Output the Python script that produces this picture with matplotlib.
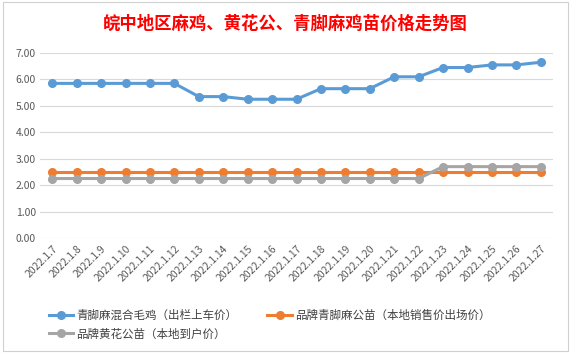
import matplotlib
matplotlib.use('Agg')
import matplotlib.pyplot as plt
from matplotlib.patches import Rectangle

plt.rcParams['font.family'] = ['Noto Sans CJK SC', 'DejaVu Sans']

dates = ['2022.1.7', '2022.1.8', '2022.1.9', '2022.1.10', '2022.1.11', '2022.1.12',
         '2022.1.13', '2022.1.14', '2022.1.15', '2022.1.16', '2022.1.17', '2022.1.18',
         '2022.1.19', '2022.1.20', '2022.1.21', '2022.1.22', '2022.1.23', '2022.1.24',
         '2022.1.25', '2022.1.26', '2022.1.27']
mixed_price = [5.85, 5.85, 5.85, 5.85, 5.85, 5.85, 5.35, 5.35, 5.25, 5.25, 5.25,
               5.65, 5.65, 5.65, 6.1, 6.1, 6.45, 6.45, 6.55, 6.55, 6.65]
qingjiao_price = [2.5] * 21
huanghua_price = [2.25] * 16 + [2.7] * 5
series_names = ['青脚麻混合毛鸡（出栏上车价）', '品牌青脚麻公苗（本地销售价出场价）', '品牌黄花公苗（本地到户价）']
title = '皖中地区麻鸡、黄花公、青脚麻鸡苗价格走势图'

colors = ['#5B9BD5', '#ED7D31', '#A5A5A5']

fig = plt.figure(figsize=(5.71, 3.55), dpi=100)
ax = fig.add_axes([40 / 571, 1 - 238 / 355, 513 / 571, 185 / 355])

# chart frame
fig.patches.append(Rectangle((3 / 571, 4 / 355), 565 / 571, 349 / 355, transform=fig.transFigure,
                             fill=False, edgecolor='#d0d0d0', linewidth=0.8))

x = list(range(len(dates)))
handles = []
for vals, c, name in zip([mixed_price, qingjiao_price, huanghua_price], colors, series_names):
    h, = ax.plot(x, vals, color=c, linewidth=2.2, marker='o', markersize=5.5, label=name,
                 solid_joinstyle='round')
    handles.append(h)

ax.set_xlim(-0.5, len(dates) - 0.5)
ax.set_ylim(0, 7)
ax.set_yticks([0, 1, 2, 3, 4, 5, 6, 7])
ax.set_yticklabels([f'{v:.2f}' for v in range(8)])
ax.set_xticks(x)
ax.set_xticklabels(dates, rotation=45, ha='right', rotation_mode='anchor')
ax.tick_params(length=0, labelsize=7.5, labelcolor='#595959', pad=3)
ax.tick_params(axis='x', pad=4)
ax.grid(axis='y', color='#d9d9d9', linewidth=0.8)
ax.set_axisbelow(True)
for s in ax.spines.values():
    s.set_visible(False)

fig.text(0.5, 1 - 24 / 355, title, color='#FF0000', fontsize=12.5, fontweight='bold',
         ha='center', va='center')

fig.legend([handles[0], handles[2], handles[1]],
           [series_names[0], series_names[2], series_names[1]],
           ncol=2, loc='upper left', bbox_to_anchor=(43 / 571, 1 - 303 / 355),
           frameon=False, fontsize=8.3, handlelength=2.1, handletextpad=0.3,
           columnspacing=2.6, labelspacing=0.5, labelcolor='#404040', borderpad=0)

fig.savefig('out.png', dpi=100)
